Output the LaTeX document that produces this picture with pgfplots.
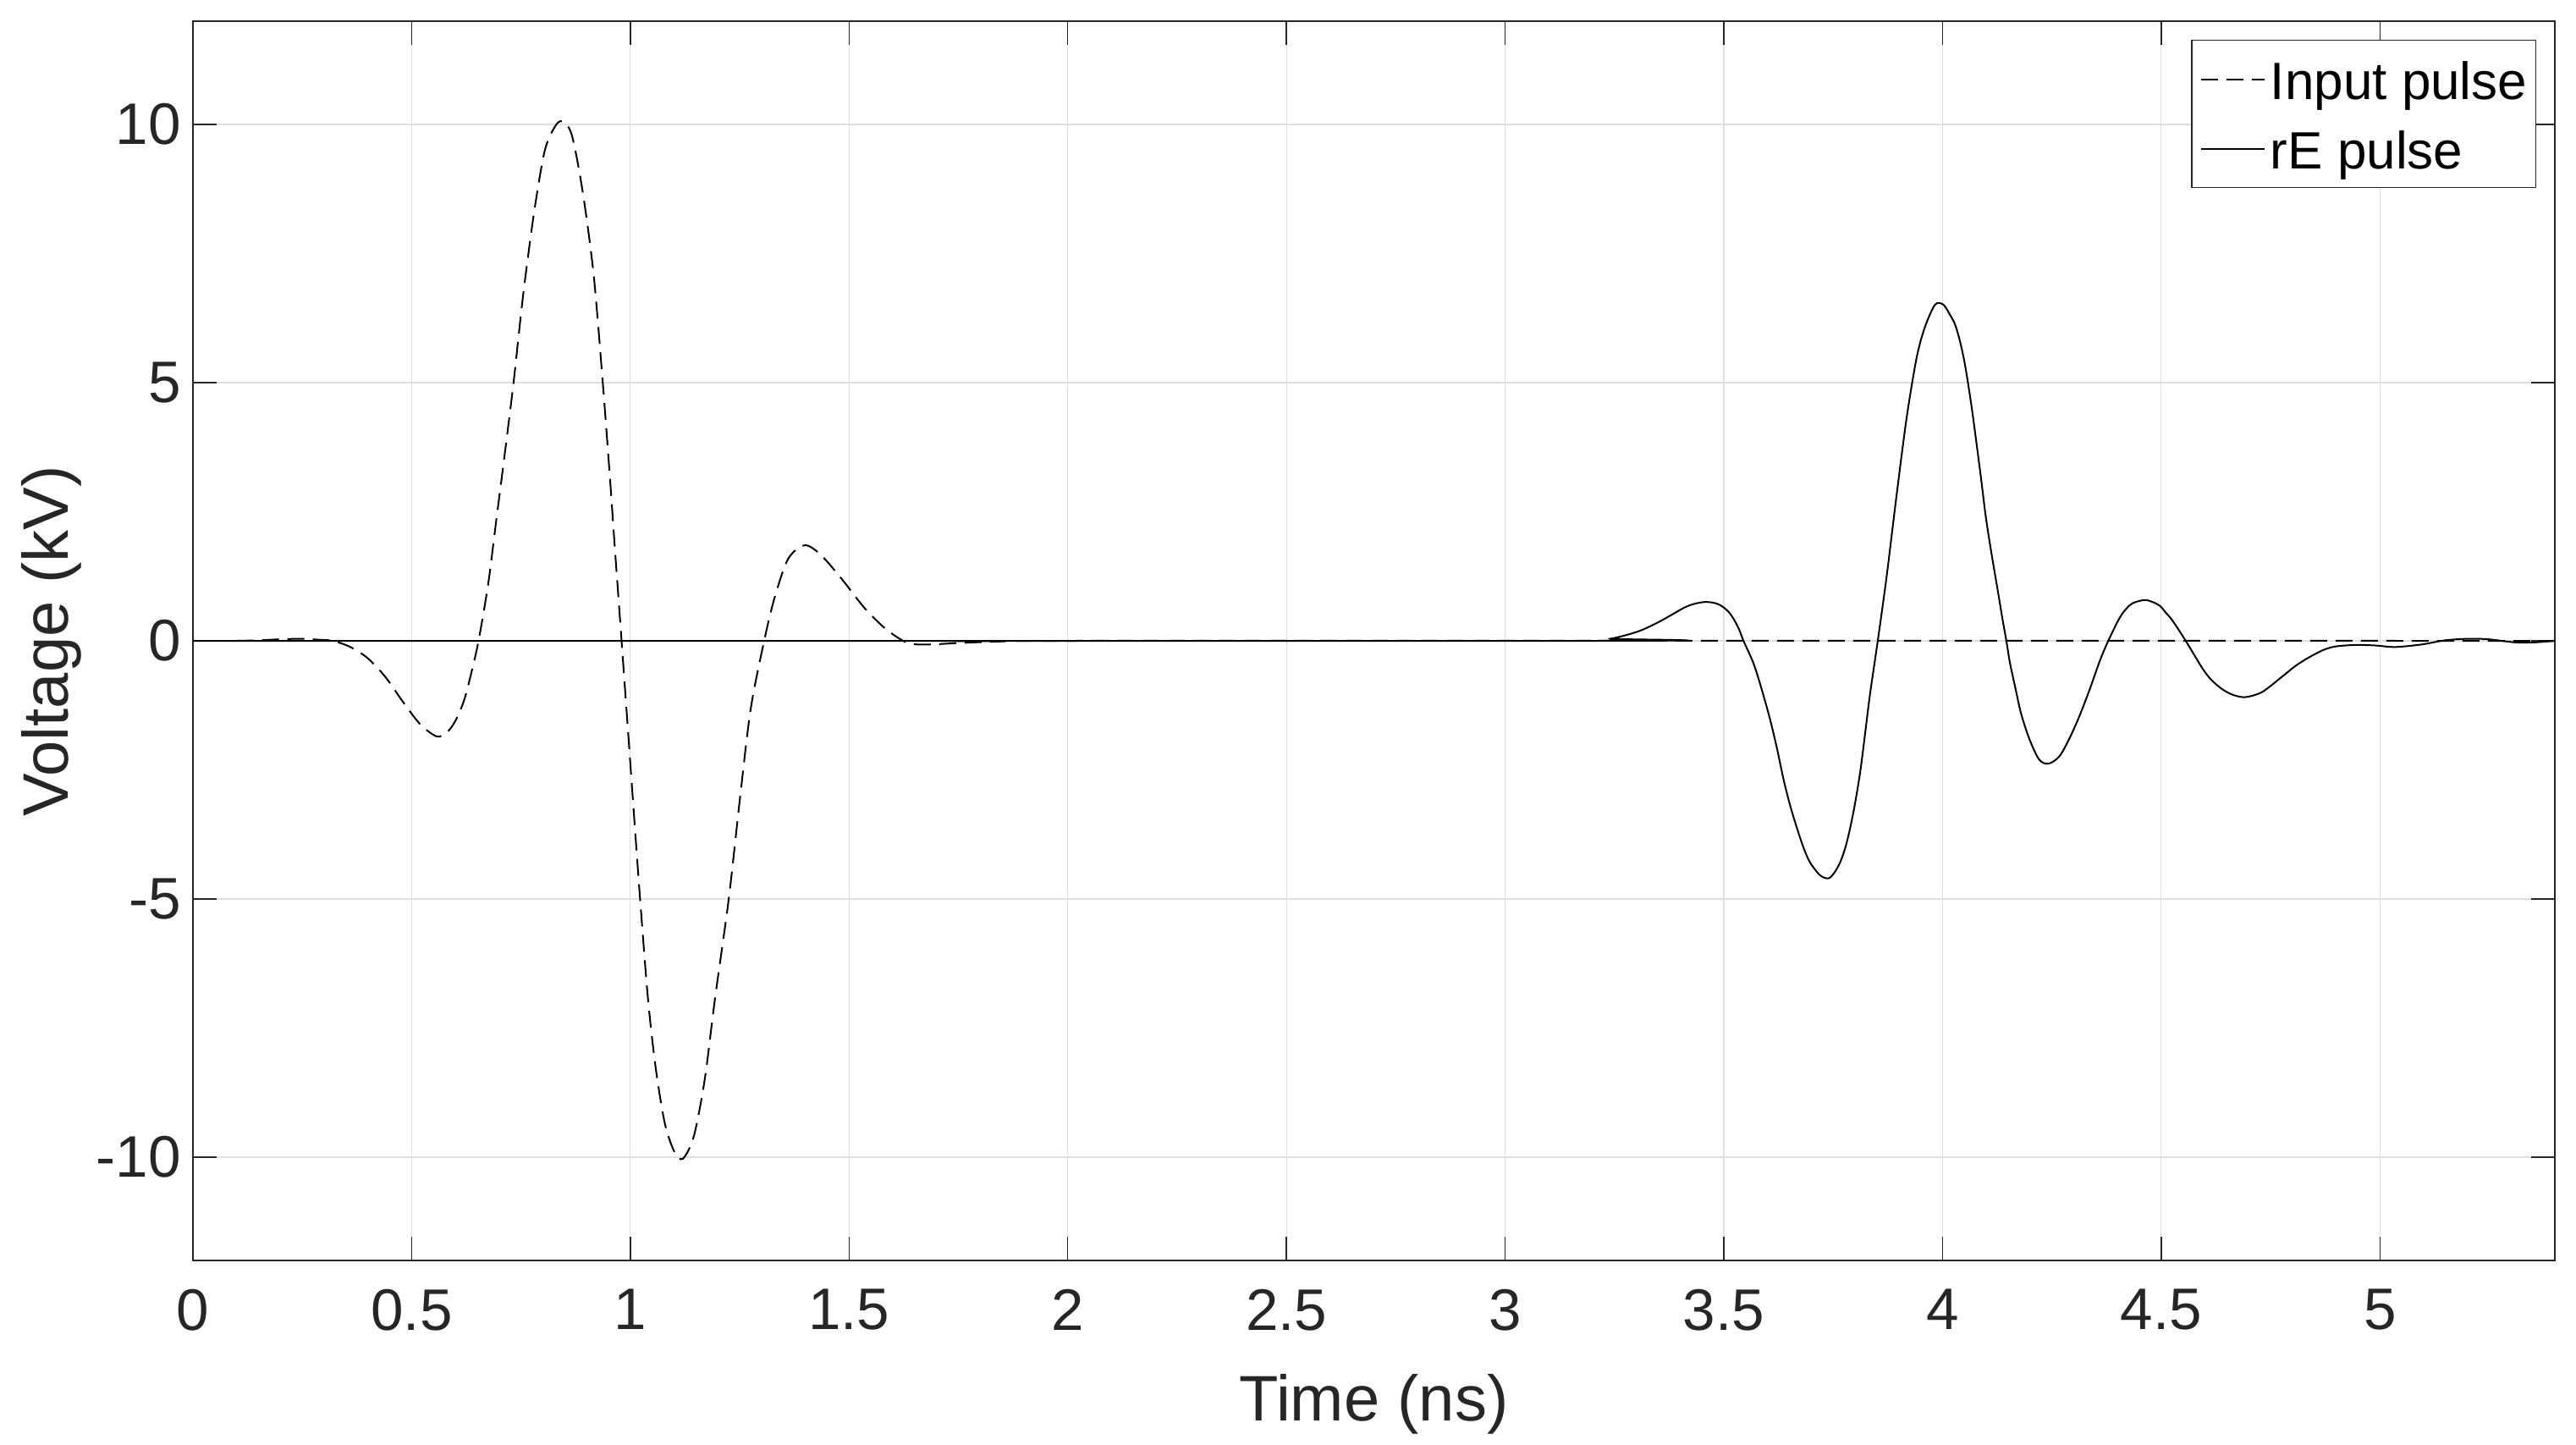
\documentclass[border=0pt]{standalone}
\usepackage{fontspec}
\setmainfont{Liberation Sans}
\usepackage{pgfplots}
\pgfplotsset{compat=1.18}
\definecolor{axgray}{gray}{0.15}
\definecolor{gridgray}{gray}{0.875}
\begin{document}
\begin{tikzpicture}
\begin{axis}[
  name=ax,
  scale only axis,
  width=697.75pt, height=366pt,
  xmin=0, xmax=5.4, ymin=-12, ymax=12,
  xtick={0,0.5,1,1.5,2,2.5,3,3.5,4,4.5,5},
  xticklabels={0,0.5,1,1.5,2,2.5,3,3.5,4,4.5,5},
  ytick={-10,-5,0,5,10},
  yticklabels={-10,-5,0,5,10},
  tick align=inside,
  xtick pos=both, ytick pos=both,
  major tick length=7pt,
  every tick/.style={axgray, line width=0.35pt},
  axis line style={axgray, line width=0.35pt},
  grid=major,
  major grid style={gridgray, line width=0.3pt},
  tick label style={font=\fontsize{17.3}{20}\selectfont, text=axgray},
  xticklabel style={yshift=-5pt},
  xlabel={Time (ns)}, ylabel={Voltage (kV)},
  label style={font=\fontsize{19}{22}\selectfont, text=axgray},
  xlabel style={at={(axis description cs:0.5,-0.1291)}, anchor=base},
  ylabel style={at={(axis description cs:-0.05303,0.5)}, anchor=base},
  legend style={at={(axis description cs:1,1)}, anchor=north east, xshift=-5.5pt, yshift=-5.5pt,
    draw=axgray, line width=0.35pt, fill=white, font=\fontsize{15.5}{18}\selectfont,
    inner xsep=2.5pt, inner ysep=1.5pt, row sep=0.5pt, column sep=1.5pt,
    nodes={inner sep=0pt, text height=16pt, text depth=4pt}},
  legend cell align=left,
  legend image code/.code={\draw[#1] (0pt,0pt) -- (18.75pt,0pt);},
]
\addplot[black, line width=0.5pt, dash pattern=on 5pt off 2.5pt, smooth] coordinates {
(0.10,0) (0.15,0.01) (0.20,0.03) (0.25,0.04) (0.29,0.02) (0.32,0)
(0.36,-0.12) (0.40,-0.34) (0.44,-0.70) (0.48,-1.18) (0.52,-1.62) (0.557,-1.85)
(0.58,-1.78) (0.60,-1.55) (0.62,-1.15) (0.637,-0.60) (0.653,0) (0.675,1.10)
(0.693,2.30) (0.712,3.56) (0.733,5.00) (0.755,6.70) (0.78,8.30) (0.804,9.48)
(0.827,9.95) (0.844,10.06) (0.866,9.80) (0.891,8.70) (0.916,7.10) (0.937,5.00)
(0.953,3.20) (0.965,1.75) (0.98,0) (0.996,-1.90) (1.009,-3.45) (1.021,-4.85)
(1.04,-6.90) (1.058,-8.27) (1.079,-9.35) (1.101,-9.90) (1.12,-10.03) (1.145,-9.60)
(1.17,-8.50) (1.194,-6.90) (1.225,-5.00) (1.25,-3.10) (1.275,-1.33) (1.306,0)
(1.33,0.84) (1.361,1.59) (1.399,1.85) (1.436,1.66) (1.485,1.18) (1.535,0.64)
(1.584,0.23) (1.634,-0.04) (1.683,-0.07) (1.757,-0.04) (1.856,-0.01) (1.95,0) (5.4,0)
};
\addlegendentry{Input pulse}
\addplot[black, line width=0.5pt, smooth] coordinates {
(0,0) (3.20,0) (3.24,0.04) (3.272,0.10) (3.31,0.20) (3.348,0.35) (3.38,0.50)
(3.409,0.64) (3.43,0.71) (3.454,0.75) (3.475,0.74) (3.492,0.69) (3.51,0.57)
(3.522,0.43) (3.535,0.22) (3.545,0) (3.568,-0.44) (3.587,-0.95) (3.606,-1.53)
(3.622,-2.10) (3.637,-2.70) (3.652,-3.20) (3.667,-3.62) (3.682,-4.00) (3.697,-4.29)
(3.72,-4.54) (3.739,-4.60) (3.752,-4.50) (3.766,-4.29) (3.778,-4.00) (3.789,-3.62)
(3.80,-3.15) (3.812,-2.53) (3.823,-1.80) (3.834,-1.05) (3.852,0) (3.872,1.23)
(3.895,2.82) (3.918,4.32) (3.941,5.49) (3.96,6.08) (3.983,6.51) (4.002,6.51)
(4.018,6.30) (4.029,6.12) (4.04,5.80) (4.05,5.41) (4.06,4.90) (4.07,4.32)
(4.087,3.22) (4.099,2.40) (4.112,1.69) (4.125,1.04) (4.138,0.38) (4.146,0)
(4.154,-0.42) (4.167,-0.93) (4.180,-1.42) (4.199,-1.91) (4.221,-2.30) (4.242,-2.38)
(4.267,-2.24) (4.289,-1.91) (4.312,-1.48) (4.337,-0.93) (4.360,-0.38) (4.379,0)
(4.404,0.43) (4.42,0.62) (4.435,0.73) (4.465,0.79)
(4.495,0.69) (4.51,0.55) (4.526,0.39) (4.556,0) (4.594,-0.53) (4.615,-0.76)
(4.64,-0.94) (4.665,-1.05) (4.693,-1.09) (4.731,-0.99) (4.777,-0.69) (4.808,-0.48)
(4.838,-0.32) (4.87,-0.18) (4.898,-0.11) (4.944,-0.08) (4.989,-0.09) (5.035,-0.12)
(5.096,-0.07) (5.149,0.01) (5.202,0.04) (5.248,0.03) (5.309,-0.03) (5.354,-0.03) (5.4,0)
};
\addlegendentry{rE pulse}
\end{axis}
\pgfresetboundingbox
\path[use as bounding box] ([xshift=-57pt,yshift=-54.25pt]ax.south west) rectangle ([xshift=6.25pt,yshift=6.25pt]ax.north east);
\end{tikzpicture}
\end{document}
